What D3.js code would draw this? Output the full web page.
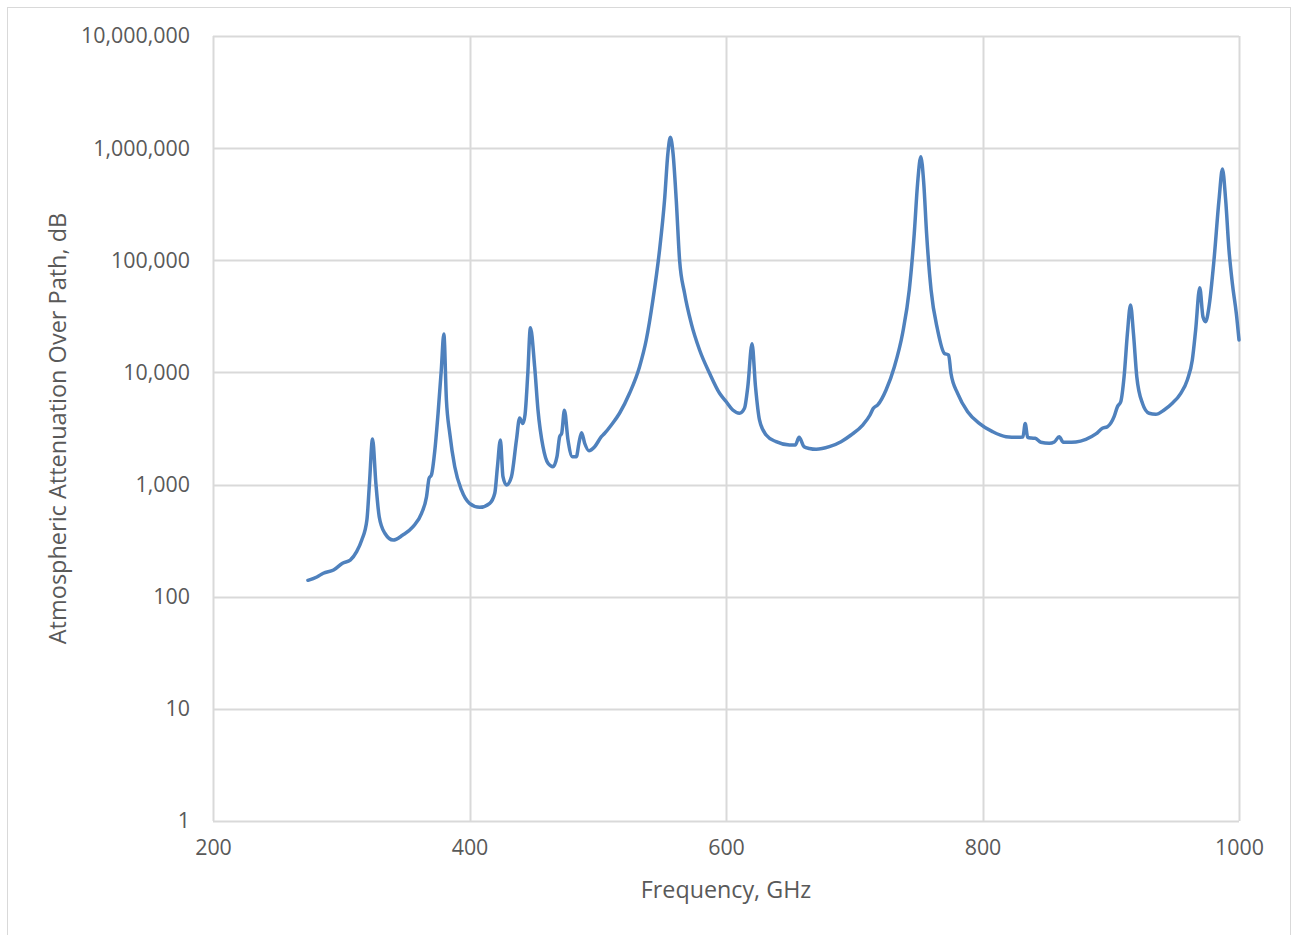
<!DOCTYPE html>
<html>
<head>
<meta charset="utf-8">
<script src="https://cdn.jsdelivr.net/npm/d3@7"></script>
<style>
  html, body { margin: 0; padding: 0; background: #fff; }
  svg { display: block; }
  .tick text { font-family: "Open Sans", "Liberation Sans", sans-serif; fill: #595959; }
</style>
</head>
<body>
<svg id="chart" width="1293" height="935"></svg>
<script>
// Atmospheric attenuation over path vs frequency
const freqGHz = [
  274, 281, 286, 294, 301, 307, 312, 316, 320, 322, 324.4, 327, 329.6, 334, 340.5, 348, 356, 362.6, 366.5, 368.5, 370.3,
  373, 375.5, 378, 380, 382, 384.6, 388.5, 393.7, 400, 408, 415.8, 419.7, 421.8, 424.1, 426.1, 428.8, 432.7,
  436.6, 439.1, 441.5, 443.3, 445.4, 447.5, 450.8, 453.4, 457.3, 461.2, 465.1, 468.2, 470.3, 471.9, 474, 476.8,
  480.2, 483.3, 485.3, 487.4, 489.8, 493.1, 497.6, 502.8, 505.4, 510.6, 517, 524.8, 532.6, 537.8, 543, 548.2,
  552.1, 554.7, 556.6, 558.7, 561.2, 563.8, 567.7, 572.9, 579.4, 587.2, 595, 600.2, 605.3, 610.5, 614.4, 617,
  620.3, 623, 626.1, 631.3, 639.1, 649.5, 654, 657, 660.9, 665, 670.3, 680.6, 689.7, 697.5, 706.6, 712.3, 714.9,
  718.3, 724.8, 731.3, 737.7, 742.9, 746.8, 749.4, 751.9, 754.2, 756.4, 759.9, 765, 770.2, 773.6, 775.4, 780.6,
  788.4, 797.5, 807.8, 818.3, 827.3, 831.5, 833.3, 835.2, 838, 841.1, 845.5, 852, 856, 859.8, 863, 866, 872.8,
  880.6, 888.4, 893.5, 897.4, 902.6, 905.2, 907.8, 910.4, 913, 915.4, 917.7, 920.3, 924.7, 929.9, 935.1, 941.6,
  948, 954.6, 959.7, 963.6, 966.2, 969.4, 971.9, 974, 976.6, 980.5, 984.4, 987.1, 989.6, 992.2, 994.8, 997.9, 1000
];
const attenuationDB = [
  140, 150, 162, 173, 199, 212, 252, 320, 483, 1026, 2550, 1026, 517, 368, 320, 355, 421, 554, 780, 1138, 1217,
  2032, 4325, 10500, 22000, 5680, 2866, 1443, 895, 681, 627, 681, 836, 1443, 2500, 1175, 991, 1175,
  2500, 3925, 3500, 4200, 9500, 25000, 11250, 4625, 2177, 1548, 1443, 1774, 2672, 2866, 4600, 2500,
  1774, 1774, 2335, 2900, 2335, 2005, 2177, 2672, 2866, 3397, 4325, 6513, 11250, 19450, 44300, 123500,
  345000, 900000, 1250000, 900000, 345000, 100700, 50800, 27400, 15850, 9820, 6513, 5480, 4625, 4325, 4790, 7460,
  18000, 7460, 3767, 2767, 2412, 2254, 2250, 2640, 2177, 2100, 2065, 2177, 2412, 2767, 3397, 4170, 4790,
  5130, 6970, 11250, 22340, 54300, 174000, 486000, 840000, 486000, 174000, 54300, 23900, 14820, 14300, 9820, 6510,
  4470, 3520, 2963, 2672, 2640, 2650, 3500, 2640, 2600, 2586, 2383, 2335, 2400, 2672, 2383, 2383, 2400,
  2531, 2827, 3177, 3281, 4030, 4950, 5480, 9160, 22340, 40000, 22340, 9160, 5310, 4325, 4235, 4625,
  5310, 6513, 8570, 12910, 23900, 57000, 31400, 28360, 38550, 100700, 345000, 650000, 345000, 123500, 62400, 33650, 19500
];
const xTickValues = [200, 400, 600, 800, 1000];
const yTickValues = [1, 10, 100, 1000, 10000, 100000, 1000000, 10000000];
const xAxisTitle = "Frequency, GHz";
const yAxisTitle = "Atmospheric Attenuation Over Path, dB";

const svg = d3.select("#chart");
const W = 1293, H = 935;
const margin = { left: 213, right: 54, top: 36, bottom: 114 };
const plotW = W - margin.left - margin.right;
const plotH = H - margin.top - margin.bottom;

// outer chart frame
svg.append("rect")
  .attr("x", 7.5).attr("y", 7.5)
  .attr("width", 1283).attr("height", 935)
  .attr("fill", "#fff").attr("stroke", "#d9d9d9").attr("stroke-width", 1);

const x = d3.scaleLinear().domain([200, 1000]).range([0, plotW]);
const y = d3.scaleLog().domain([1, 10000000]).range([plotH, 0]);

const g = svg.append("g").attr("transform", `translate(${margin.left},${margin.top})`);

// gridlines
g.append("g").selectAll("line").data(yTickValues).join("line")
  .attr("x1", 0).attr("x2", plotW)
  .attr("y1", d => Math.round(y(d)) + 0.5).attr("y2", d => Math.round(y(d)) + 0.5)
  .attr("stroke", "#d9d9d9").attr("stroke-width", 2);
g.append("g").selectAll("line").data(xTickValues).join("line")
  .attr("y1", 0).attr("y2", plotH)
  .attr("x1", d => Math.round(x(d)) + 0.5).attr("x2", d => Math.round(x(d)) + 0.5)
  .attr("stroke", "#d9d9d9").attr("stroke-width", 2);

// axes (labels only)
const fmt = d3.format(",");
const yAxis = g.append("g")
  .call(d3.axisLeft(y).tickValues(yTickValues).tickFormat(fmt).tickSize(0).tickPadding(23));
yAxis.select(".domain").remove();
yAxis.selectAll("text").attr("font-size", 21.4);

const xAxis = g.append("g").attr("transform", `translate(0,${plotH})`)
  .call(d3.axisBottom(x).tickValues(xTickValues).tickFormat(d3.format("d")).tickSize(0).tickPadding(19));
xAxis.select(".domain").remove();
xAxis.selectAll("text").attr("font-size", 21.4);

// data line
const pts = freqGHz.map((f, i) => [f, attenuationDB[i]]);
const line = d3.line()
  .x(d => x(d[0]))
  .y(d => y(d[1]))
  .curve(d3.curveMonotoneX);
g.append("path")
  .datum(pts)
  .attr("d", line)
  .attr("fill", "none")
  .attr("stroke", "#4f81bd")
  .attr("stroke-width", 3.5)
  .attr("stroke-linejoin", "round")
  .attr("stroke-linecap", "round");

// axis titles
svg.append("text")
  .attr("x", margin.left + plotW / 2).attr("y", 898)
  .attr("text-anchor", "middle")
  .attr("font-family", "'Open Sans', 'Liberation Sans', sans-serif")
  .attr("font-size", 23.3).attr("fill", "#595959")
  .text(xAxisTitle);
svg.append("text")
  .attr("transform", `translate(66,${margin.top + plotH / 2}) rotate(-90)`)
  .attr("text-anchor", "middle")
  .attr("font-family", "'Open Sans', 'Liberation Sans', sans-serif")
  .attr("font-size", 23.5).attr("fill", "#595959")
  .text(yAxisTitle);
</script>
</body>
</html>
